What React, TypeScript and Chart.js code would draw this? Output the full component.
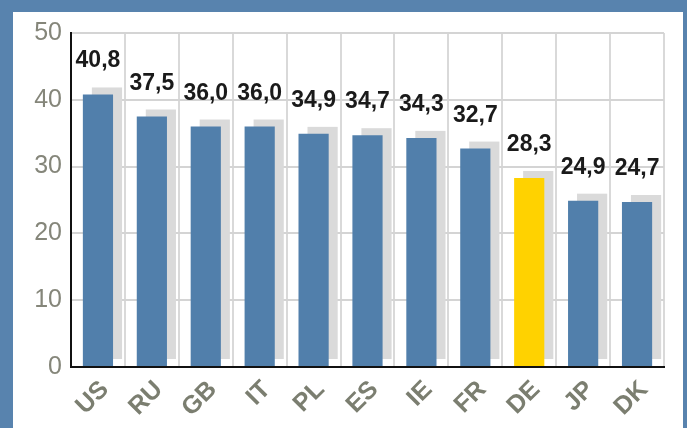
import React, { useEffect, useRef } from "react";
import { Chart, registerables } from "chart.js";

Chart.register(...registerables);

const categories = ["US", "RU", "GB", "IT", "PL", "ES", "IE", "FR", "DE", "JP", "DK"];
const values = [40.8, 37.5, 36.0, 36.0, 34.9, 34.7, 34.3, 32.7, 28.3, 24.9, 24.7];
const highlighted = "DE";
const yMin = 0;
const yMax = 50;
const yStep = 10;

const FRAME_BLUE = "#5883ae";
const BAR_BLUE = "#517fab";
const BAR_YELLOW = "#ffd200";
const SHADOW = "#dadada";
const FONT = "'Liberation Sans', Arial, sans-serif";

const framePlugin = {
  id: "frame",
  beforeDraw(chart: any) {
    const { ctx, width, height } = chart;
    ctx.save();
    ctx.fillStyle = FRAME_BLUE;
    ctx.fillRect(0, 0, width, height);
    ctx.fillStyle = "#ffffff";
    ctx.fillRect(13, 12, 670, height - 12);
    ctx.restore();
  },
};

const shadowPlugin = {
  id: "barShadow",
  beforeDatasetsDraw(chart: any) {
    const { ctx } = chart;
    const meta = chart.getDatasetMeta(0);
    ctx.save();
    ctx.fillStyle = SHADOW;
    meta.data.forEach((bar: any) => {
      const { x, y, base, width } = bar.getProps(["x", "y", "base", "width"], true);
      ctx.fillRect(x - width / 2 + 9, y - 7, width, base - y);
    });
    ctx.restore();
  },
};

const labelPlugin = {
  id: "valueLabels",
  afterDatasetsDraw(chart: any) {
    const { ctx } = chart;
    const meta = chart.getDatasetMeta(0);
    ctx.save();
    ctx.font = `bold 23px ${FONT}`;
    ctx.fillStyle = "#1a1a1a";
    ctx.textAlign = "center";
    ctx.textBaseline = "alphabetic";
    meta.data.forEach((bar: any, i: number) => {
      const { x, y } = bar.getProps(["x", "y"], true);
      ctx.fillText(values[i].toFixed(1).replace(".", ","), x, y - 27);
    });
    ctx.restore();
  },
};

export default function App() {
  const ref = useRef<HTMLCanvasElement | null>(null);

  useEffect(() => {
    if (!ref.current) return;
    const chart = new Chart(ref.current, {
      type: "bar",
      data: {
        labels: categories,
        datasets: [
          {
            data: values,
            backgroundColor: categories.map((c) => (c === highlighted ? BAR_YELLOW : BAR_BLUE)),
            borderWidth: 0,
            categoryPercentage: 1,
            barPercentage: 0.56,
          },
        ],
      },
      options: {
        animation: false,
        responsive: false,
        devicePixelRatio: 1,
        layout: { padding: { left: 0, top: 33, right: 23, bottom: 0 } },
        plugins: { legend: { display: false }, tooltip: { enabled: false } },
        scales: {
          x: {
            offset: true,
            grid: { offset: true, color: "#d9d9d9", lineWidth: 2, drawTicks: false },
            border: { color: "#111111", width: 2 },
            ticks: {
              minRotation: 45,
              maxRotation: 45,
              padding: 8,
              labelOffset: 7,
              color: "#7b7e70",
              font: { family: FONT, size: 25, weight: "bold" },
            },
            afterFit(scale: any) {
              scale.height = 61;
            },
          },
          y: {
            min: yMin,
            max: yMax,
            grid: { color: "#d4d4d4", lineWidth: 2, drawTicks: false },
            border: { color: "#111111", width: 2 },
            ticks: {
              stepSize: yStep,
              padding: 9,
              color: "#85867a",
              font: { family: FONT, size: 25 },
            },
            afterFit(scale: any) {
              scale.width = 71;
            },
          },
        },
      },
      plugins: [framePlugin, shadowPlugin, labelPlugin],
    });
    return () => chart.destroy();
  }, []);

  return (
    <canvas
      ref={ref}
      width={687}
      height={428}
      style={{ position: "fixed", left: 0, top: 0, width: 687, height: 428 }}
    />
  );
}
